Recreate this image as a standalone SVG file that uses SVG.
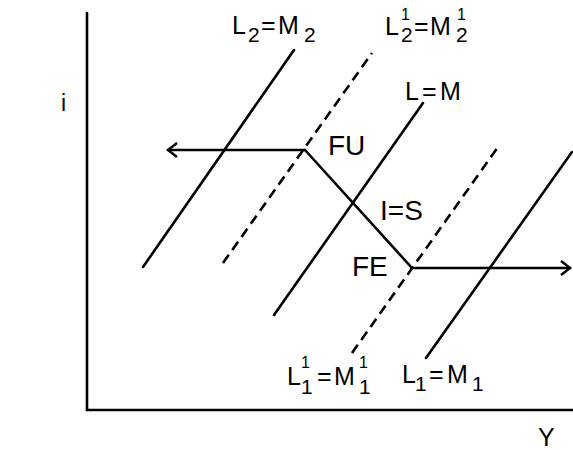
<svg xmlns="http://www.w3.org/2000/svg" width="573" height="450" viewBox="0 0 573 450">
<style>
text{font-family:"Liberation Sans","DejaVu Sans",sans-serif;fill:#000}
.lab{font-size:25px}
.sub{font-size:21px}
.sup{font-size:16px}
.big{font-size:28px}
.ln{stroke:#000;stroke-width:2.6;fill:none;stroke-linecap:round}
.dash{stroke-dasharray:10 6;stroke-linecap:butt}
</style>
<defs>
<marker id="arr" markerWidth="12" markerHeight="16" refX="10" refY="8" orient="auto" markerUnits="userSpaceOnUse">
<path d="M1,1 L10,8 L1,15" fill="none" stroke="#000" stroke-width="2.4"/>
</marker>
</defs>
<rect width="573" height="450" fill="#fff"/>
<g id="axes">
<path class="ln" d="M87,13 V410 H573" stroke-width="3" stroke-linecap="butt"/>
<text x="61" y="111" font-size="23px">i</text>
<text x="538" y="446" class="lab">Y</text>
</g>
<g id="curves">
<line id="L2M2" class="ln" x1="143" y1="267" x2="294" y2="50"/>
<line id="L2M2p" class="ln dash" x1="223" y1="263" x2="372" y2="53"/>
<line id="LM" class="ln" x1="274" y1="315" x2="423" y2="103"/>
<line id="L1M1p" class="ln dash" x1="352" y1="353" x2="498" y2="147"/>
<line id="L1M1" class="ln" x1="426" y1="358" x2="572" y2="152"/>
</g>
<g id="connectors">
<path class="ln" d="M305,150 H168" marker-end="url(#arr)"/>
<path class="ln" d="M305,150 L412,268"/>
<path class="ln" d="M412,268 H570" marker-end="url(#arr)"/>
</g>
<g id="labels">
<text class="lab" x="232" y="34">L<tspan class="sub" x="248" y="42">2</tspan><tspan x="261" y="34">=</tspan><tspan x="278" y="34">M</tspan><tspan class="sub" x="304" y="42">2</tspan></text>
<text class="lab" x="385" y="35">L<tspan class="sup" x="401" y="20">1</tspan><tspan class="sub" x="401" y="42">2</tspan><tspan x="414" y="35">=</tspan><tspan x="430" y="35">M</tspan><tspan class="sup" x="457" y="20">1</tspan><tspan class="sub" x="456" y="42">2</tspan></text>
<text class="lab" x="405" y="100">L<tspan x="422" y="100">=</tspan><tspan x="440" y="100">M</tspan></text>
<text class="big" x="328" y="155">FU</text>
<text class="big" x="380" y="220">I=S</text>
<text class="big" x="352" y="276">FE</text>
<text class="lab" x="287" y="385">L<tspan class="sup" x="301" y="368">1</tspan><tspan class="sub" x="301" y="394">1</tspan><tspan x="317" y="385">=</tspan><tspan x="334" y="385">M</tspan><tspan class="sup" x="359" y="368">1</tspan><tspan class="sub" x="359" y="394">1</tspan></text>
<text class="lab" x="402" y="383">L<tspan class="sub" x="415" y="391">1</tspan><tspan x="429" y="383">=</tspan><tspan x="447" y="383">M</tspan><tspan class="sub" x="472" y="391">1</tspan></text>
</g>
</svg>
